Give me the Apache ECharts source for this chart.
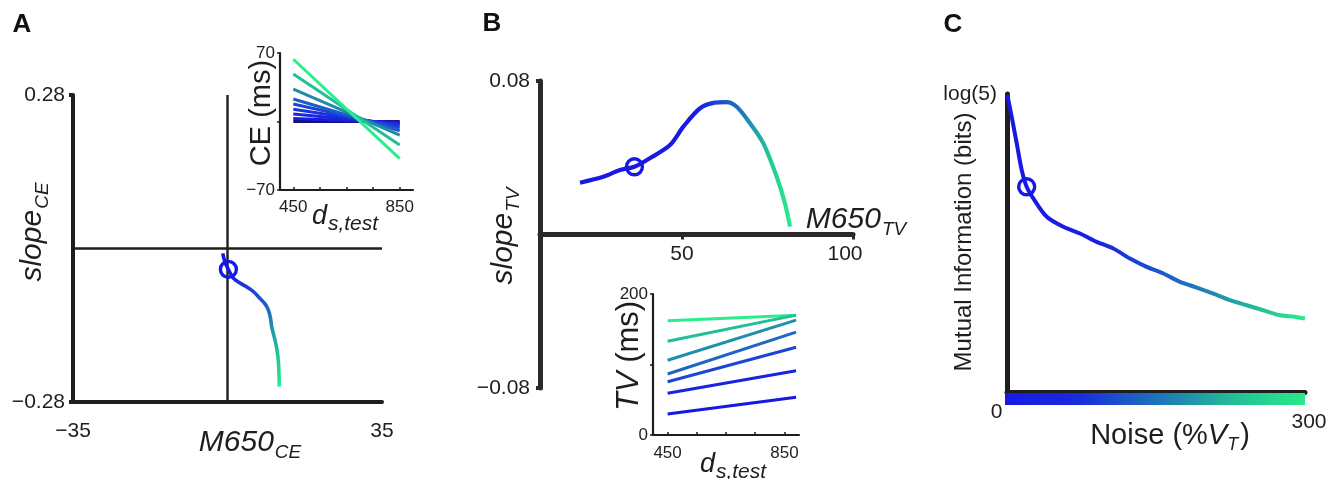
<!DOCTYPE html>
<html>
<head>
<meta charset="utf-8">
<script src="https://cdn.jsdelivr.net/npm/echarts@6/dist/echarts.min.js"></script>
<style>
  html, body { margin: 0; padding: 0; background: #fff; }
  #chart { width: 1342px; height: 479px; }
</style>
</head>
<body>
<div id="chart"></div>
<script>
// ---------- data ----------
// Panel A: slope of CE against M650 of CE, traced over noise level
const m650CE  = [-1.09, -0.57, 0.18, 1.31, 2.83, 4.35, 5.78, 7.36, 8.5, 9.24, 9.74, 10.01, 10.76, 11.21, 11.51, 11.67, 11.74];
const slopeCE = [-0.009, -0.025, -0.038, -0.054, -0.063, -0.070, -0.078, -0.091, -0.101, -0.112, -0.127, -0.143, -0.167, -0.185, -0.204, -0.231, -0.252];
const circleCE = [0.2, -0.038];

// Inset A: CE (ms) at the two ends of the test range
const dTestCE  = [450, 850];
const ceStart  = [63.6, 48.5, 33.2, 23.0, 17.9, 12.5, 7.7, 3.0, 0];
const ceEnd    = [-37.9, -24.0, -14.0, -9.5, -6.5, -4.0, -2.5, -1.0, 0];

// Panel B: slope of TV against M650 of TV
const m650TV  = [20.2, 27.0, 31.9, 36.1, 40.6, 46.5, 50.4, 55.3, 59.6, 63.0, 66.0, 69.9, 73.8, 77.7, 80.1, 81.6];
const slopeTV = [0.0270, 0.0301, 0.0336, 0.0353, 0.0397, 0.0466, 0.0562, 0.0658, 0.0687, 0.0690, 0.0666, 0.0580, 0.0475, 0.0301, 0.0163, 0.0041];
const circleTV = [36.1, 0.0353];

// Inset B: TV (ms) at the two ends of the test range
const dTestTV = [450, 890];
const tvStart = [162, 133, 106, 86.5, 75.6, 59.2, 29.8];
const tvEnd   = [170, 170, 163, 146, 124.5, 91, 53.6];

// Panel C: mutual information against noise (% of V_T)
const noisePct   = [0.3, 4.7, 9.8, 14.8, 19.8, 26.5, 40, 56.7, 73.5, 90.3, 107, 123.8, 140.6, 157.4, 174.2, 191, 207.7, 224.5, 241.3, 258, 275, 285, 300];
const mutualInfo = [2.315, 2.145, 1.937, 1.730, 1.599, 1.508, 1.365, 1.287, 1.235, 1.170, 1.118, 1.040, 0.975, 0.923, 0.858, 0.814, 0.767, 0.715, 0.676, 0.637, 0.598, 0.590, 0.573];
const circleMI   = [19.8, 1.599];
const noiseRange = [0, 300];
const miMax      = Math.log2(5);

// tick labels
const ticksA_x = [-35, 35],   ticksA_y = [-0.28, 0.28];
const ticksB_x = [50, 100],   ticksB_y = [-0.08, 0.08];
const ticksIn_x = [450, 850];
const ticksInA_y = [-70, 70], ticksInB_y = [0, 200];

// ---------- styling ----------
const F = 'Liberation Sans';
const INK = '#1e1e1e';
const shadeCE = [1, 0.8, 0.6, 0.42, 0.3, 0.18, 0.09, 0.03, 0];
const shadeTV = [1, 0.8, 0.62, 0.45, 0.3, 0.08, 0];

const stops = [[0, [24, 24, 228]], [0.35, [28, 76, 212]], [0.6, [32, 138, 172]], [0.8, [34, 190, 150]], [1, [42, 238, 140]]];
function cmap(t) {
  for (let i = 1; i < stops.length; i++) {
    if (t <= stops[i][0]) {
      const a = stops[i - 1], b = stops[i];
      const u = (t - a[0]) / (b[0] - a[0]);
      const c = a[1].map((v, k) => Math.round(v + (b[1][k] - v) * u));
      return 'rgb(' + c.join(',') + ')';
    }
  }
  return 'rgb(' + stops[stops.length - 1][1].join(',') + ')';
}
const grad = (x2, y2, st) => new echarts.graphic.LinearGradient(0, 0, x2, y2,
  st.map(([o, t]) => ({ offset: o, color: cmap(t) })));

const zip = (xs, ys) => xs.map((x, i) => [x, ys[i]]);
const minusFmt = d => v => (v < 0 ? '\u2212' : '') + Math.abs(v).toFixed(d);

function axis(gi, o) {
  const base = {
    type: 'value', gridIndex: gi, splitLine: { show: false },
    axisLine: { onZero: false, lineStyle: { color: INK, width: 2 } },
    axisTick: { show: false },
    axisLabel: { show: false, color: INK, fontFamily: F }
  };
  const r = Object.assign({}, base, o);
  r.axisLine = Object.assign({}, base.axisLine, o.axisLine || {});
  r.axisLine.lineStyle = Object.assign({}, base.axisLine.lineStyle, (o.axisLine || {}).lineStyle || {});
  r.axisTick = Object.assign({}, base.axisTick, o.axisTick || {});
  r.axisLabel = Object.assign({}, base.axisLabel, o.axisLabel || {});
  return r;
}
const hidden = (gi, min, max) => ({ type: 'value', gridIndex: gi, min, max, show: false });

const circle = (xi, yi, pt) => ({
  type: 'scatter', xAxisIndex: xi, yAxisIndex: yi, data: [pt], z: 10,
  symbol: 'circle', symbolSize: 16,
  itemStyle: { color: 'rgba(0,0,0,0)', borderColor: cmap(0), borderWidth: 3.4, opacity: 1 }
});
const seg = (xi, yi, pts, color, width, z) => ({
  type: 'line', xAxisIndex: xi, yAxisIndex: yi, data: pts, showSymbol: false,
  lineStyle: { color, width, cap: 'butt' }, z: z || 2, silent: true
});

// ---------- series ----------
const series = [];
// Panel A: zero lines, curve, marker
series.push(seg(0, 0, [[0, ticksA_y[0]], [0, ticksA_y[1]]], INK, 2.4, 1));
series.push(seg(0, 0, [[ticksA_x[0], 0], [ticksA_x[1], 0]], INK, 2.4, 1));
series.push({
  type: 'line', xAxisIndex: 0, yAxisIndex: 0, data: zip(m650CE, slopeCE), showSymbol: false, smooth: 0.3,
  lineStyle: { width: 3.6, color: grad(0, 1, [[0, 0], [0.15, 0], [0.4, 0.45], [0.7, 0.78], [1, 1]]) }, z: 5
});
series.push(circle(0, 0, circleCE));
// Inset A lines (dark flat line drawn last on top)
ceStart.forEach((v, i) => {
  const col = i === ceStart.length - 1 ? '#12127a' : cmap(shadeCE[i]);
  series.push(seg(1, 1, [[dTestCE[0], v], [dTestCE[1], ceEnd[i]]], col, 3, 3 + (ceStart.length - i) * 0.01));
});
// Panel B
series.push({
  type: 'line', xAxisIndex: 2, yAxisIndex: 2, data: zip(m650TV, slopeTV), showSymbol: false, smooth: 0.3,
  lineStyle: { width: 4.2, color: grad(1, 0, [[0, 0], [0.55, 0.02], [0.75, 0.5], [0.9, 0.85], [1, 1]]) }, z: 5
});
series.push(circle(2, 2, circleTV));
// Inset B lines
tvStart.forEach((v, i) => {
  series.push(seg(3, 3, [[dTestTV[0], v], [dTestTV[1], tvEnd[i]]], cmap(shadeTV[i]), 3, 3));
});
// Panel C
series.push({
  type: 'line', xAxisIndex: 4, yAxisIndex: 4, data: zip(noisePct, mutualInfo), showSymbol: false, smooth: 0.3,
  lineStyle: { width: 4, color: grad(1, 0, [[0, 0], [0.3, 0.05], [0.5, 0.38], [0.68, 0.58], [0.85, 0.82], [1, 1]]) }, z: 5
});
series.push(circle(4, 4, circleMI));
// Panel C noise colour bar
series.push({
  type: 'line', xAxisIndex: 5, yAxisIndex: 5, data: noiseRange.map(x => [x, 0.5]), showSymbol: false,
  lineStyle: { width: 12, cap: 'butt', color: grad(1, 0, [[0, 0], [0.25, 0.12], [0.5, 0.5], [0.75, 0.8], [1, 1]]) }, z: 1
});

// ---------- text helpers ----------
function richLabel(x, y, text, rich, rot) {
  const r = {};
  Object.keys(rich).forEach(k => {
    r[k] = Object.assign({ fontFamily: F, fill: INK, color: INK }, rich[k]);
  });
  return {
    type: 'text', x, y, rotation: rot || 0, z: 20,
    style: { text, rich: r, x: 0, y: 0, align: 'center', verticalAlign: 'middle', textAlign: 'center', textVerticalAlign: 'middle' }
  };
}
const bigM = { fontSize: 30, fontStyle: 'italic' };
const bigS = { fontSize: 19, fontStyle: 'italic', padding: [20, 0, 0, 1] };
const dM = { fontSize: 27, fontStyle: 'italic' };
const dS = { fontSize: 21, fontStyle: 'italic', padding: [16, 0, 0, 1] };
const letter = (x, y, t) => ({ type: 'text', x, y, z: 20,
  style: { text: t, x: 0, y: 0, fill: '#111', font: 'bold 26px "' + F + '"', align: 'center', verticalAlign: 'middle', textAlign: 'center', textVerticalAlign: 'middle' } });

const graphics = [
  letter(22, 25, 'A'), letter(492, 24, 'B'), letter(953, 25, 'C'),
  richLabel(33, 232, '{m|slope}{s|CE}', { m: bigM, s: bigS }, Math.PI / 2),
  richLabel(250, 443, '{m|M650}{s|CE}', { m: bigM, s: bigS }),
  richLabel(262, 113, '{m|CE (ms)}', { m: { fontSize: 29 } }, Math.PI / 2),
  richLabel(345, 216, '{m|d}{s|s,test}', { m: dM, s: dS }),
  richLabel(504, 236, '{m|slope}{s|TV}', { m: bigM, s: bigS }, Math.PI / 2),
  richLabel(856, 220, '{m|M650}{s|TV}', { m: bigM, s: bigS }),
  richLabel(629, 356, '{i|TV}{n| (ms)}', { i: { fontSize: 31, fontStyle: 'italic' }, n: { fontSize: 31 } }, Math.PI / 2),
  richLabel(733, 464, '{m|d}{s|s,test}', { m: dM, s: dS }),
  richLabel(964, 242, '{m|Mutual Information (bits)}', { m: { fontSize: 24 } }, Math.PI / 2),
  richLabel(1170, 436, '{n|Noise (%}{v|V}{t|T}{n|)}', {
    n: { fontSize: 29 }, v: { fontSize: 29, fontStyle: 'italic' },
    t: { fontSize: 18, fontStyle: 'italic', padding: [18, 2, 0, 0] }
  })
];

// ---------- option ----------
// panel B's horizontal axis sits at slope = 0, halfway up its grid
const gridB = { left: 540, top: 81, width: 313, height: 307 };
const offsetB = -gridB.height * (0 - ticksB_y[0]) / (ticksB_y[1] - ticksB_y[0]);

const option = {
  animation: false,
  backgroundColor: '#fff',
  textStyle: { fontFamily: F },
  grid: [
    { left: 73,   top: 95,  width: 309, height: 307, outerBoundsMode: 'none' },
    { left: 280,  top: 53,  width: 133, height: 137, outerBoundsMode: 'none' },
    Object.assign({ outerBoundsMode: 'none' }, gridB),
    { left: 653,  top: 294, width: 146, height: 141, outerBoundsMode: 'none' },
    { left: 1007, top: 94,  width: 298, height: 298, outerBoundsMode: 'none' },
    { left: 1005, top: 393, width: 300, height: 12,  outerBoundsMode: 'none' }
  ],
  xAxis: [
    axis(0, { min: -35, max: 35,
      axisLine: { lineStyle: { width: 4 } },
      axisLabel: { show: true, customValues: ticksA_x, fontSize: 21, margin: 19, formatter: minusFmt(0) } }),
    axis(1, { min: 400, max: 900,
      axisLine: { lineStyle: { width: 2.2 } },
      axisTick: { show: true, customValues: [450, 550, 650, 750, 850], inside: true, length: 3, lineStyle: { color: INK, width: 1.5 } },
      axisLabel: { show: true, customValues: ticksIn_x, fontSize: 17, margin: 9 } }),
    axis(2, { min: 8.5, max: 100, position: 'bottom', offset: offsetB,
      axisLine: { lineStyle: { width: 5, color: '#2a2a2a' } },
      axisTick: { show: true, customValues: ticksB_x, length: 5, lineStyle: { color: '#2a2a2a', width: 3 } },
      axisLabel: { show: true, customValues: ticksB_x, fontSize: 21, margin: 9,
        formatter: v => (v === ticksB_x[1] ? '{r|' + v + '}' : String(v)),
        rich: { r: { fontSize: 21, fontFamily: F, color: INK, padding: [0, 16, 0, 0] } } } }),
    axis(3, { min: 400, max: 900,
      axisLine: { lineStyle: { width: 2.2 } },
      axisTick: { show: true, customValues: [450, 550, 650, 750, 850], inside: true, length: 3, lineStyle: { color: INK, width: 1.5 } },
      axisLabel: { show: true, customValues: ticksIn_x, fontSize: 17, margin: 10 } }),
    axis(4, { min: noiseRange[0], max: noiseRange[1],
      axisLine: { lineStyle: { width: 5 } },
      axisLabel: { show: true, customValues: noiseRange, fontSize: 21, margin: 10,
        formatter: v => (v === 0 ? '{l|0}' : '{r|' + v + '}'),
        rich: { l: { fontSize: 21, fontFamily: F, color: INK, padding: [0, 21, 0, 0] },
                r: { fontSize: 21, fontFamily: F, color: INK, padding: [10, 0, 0, 8] } } } }),
    hidden(5, noiseRange[0], noiseRange[1])
  ],
  yAxis: [
    axis(0, { min: ticksA_y[0], max: ticksA_y[1],
      axisLine: { lineStyle: { width: 4 } },
      axisTick: { show: true, customValues: ticksA_y, length: 4, lineStyle: { color: INK, width: 4 } },
      axisLabel: { show: true, customValues: ticksA_y, fontSize: 21, margin: 8, formatter: minusFmt(2) } }),
    axis(1, { min: -70, max: 70,
      axisLine: { lineStyle: { width: 2.2 } },
      axisTick: { show: true, customValues: [-70, 0, 70], length: 3, lineStyle: { color: INK, width: 1.5 } },
      axisLabel: { show: true, customValues: ticksInA_y, fontSize: 17, margin: 5, formatter: minusFmt(0) } }),
    axis(2, { min: ticksB_y[0], max: ticksB_y[1],
      axisLine: { lineStyle: { width: 5, color: '#2a2a2a' } },
      axisTick: { show: true, customValues: ticksB_y, length: 4, lineStyle: { color: '#2a2a2a', width: 4 } },
      axisLabel: { show: true, customValues: ticksB_y, fontSize: 21, margin: 10, formatter: minusFmt(2) } }),
    axis(3, { min: 0, max: 200,
      axisLine: { lineStyle: { width: 2.2 } },
      axisTick: { show: true, customValues: [0, 100, 200], length: 3, lineStyle: { color: INK, width: 1.5 } },
      axisLabel: { show: true, customValues: ticksInB_y, fontSize: 17, margin: 5 } }),
    axis(4, { min: 0, max: miMax,
      axisLine: { lineStyle: { width: 5 } },
      axisLabel: { show: true, customValues: [miMax], fontSize: 21, margin: 10, formatter: () => 'log(5)' } }),
    hidden(5, 0, 1)
  ],
  series,
  graphic: graphics
};

const chart = echarts.init(document.getElementById('chart'), null, { renderer: 'canvas' });
chart.setOption(option);
</script>
</body>
</html>
